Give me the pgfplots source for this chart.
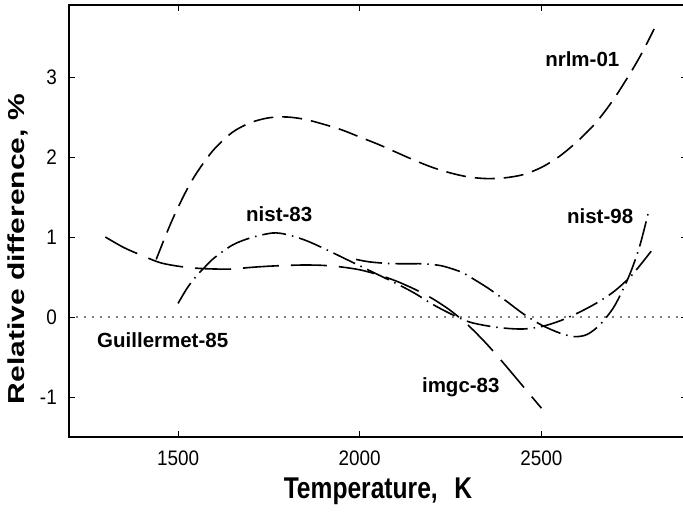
\documentclass[border=0pt]{standalone}
\usepackage{fontspec}
\setmainfont{Liberation Sans}
\newfontfamily\tickfont{Liberation Sans}[FakeStretch=0.9]
\newfontfamily\labfont{Liberation Sans}[FakeStretch=0.82]
\usepackage{graphicx}
\usepackage{pgfplots}
\pgfplotsset{compat=1.18}
\newcommand{\curvefont}{\bfseries\fontsize{20.5bp}{24bp}\selectfont}

\begin{document}
\begin{tikzpicture}
  \begin{axis}[
      scale only axis, width=617.8bp, height=432bp,
      xmin=1200, xmax=2900, ymin=-1.5, ymax=3.9,
      xtick={1500,2000,2500}, ytick={-1,0,1,2,3},
      scaled x ticks=false,
      tick align=inside, tick pos=both,
      major tick length=6bp,
      major tick style={line width=0.8bp, black},
      axis line style={line width=2.5bp},
      /pgf/number format/assume math mode=true,
      /pgf/number format/1000 sep={},
      xticklabel style={font=\tickfont\fontsize{21bp}{24bp}\selectfont,
                        anchor=north, inner sep=0pt, yshift=-14bp},
      yticklabel style={font=\tickfont\fontsize{21bp}{24bp}\selectfont,
                        anchor=east, inner sep=0pt, xshift=-12bp},
      xlabel={Temperature,\hspace{0.55em}K},
      xlabel style={font=\labfont\bfseries\fontsize{30bp}{34bp}\selectfont,
                    at={(axis description cs:0.5,-0.1412)}, anchor=base, inner sep=0pt},
      ylabel={\scalebox{1}[0.77]{Relative difference, \%}},
      ylabel style={font=\bfseries\fontsize{30bp}{34bp}\selectfont,
                    at={(axis description cs:-0.072,0.435)}, anchor=base, inner sep=0pt},
      every axis plot/.append style={line width=1.6bp, black, no marks},
    ]
    % Guillermet-85 reference
    \addplot[line width=1.6bp, line cap=round, dash pattern=on 0bp off 8bp]
      coordinates {(1200,0) (2900,0)};
    % nrlm-01
    \addplot[smooth, dash pattern=on 20bp off 9bp] coordinates {
      (1440,0.72) (1460,0.95) (1480,1.17) (1500,1.37) (1530,1.64) (1560,1.86)
      (1600,2.10) (1650,2.31) (1700,2.43) (1750,2.49) (1800,2.50) (1850,2.47)
      (1900,2.41) (1950,2.34) (2000,2.25) (2050,2.16) (2100,2.06) (2150,1.96)
      (2200,1.87) (2250,1.80) (2300,1.75) (2350,1.73) (2400,1.74) (2450,1.78)
      (2500,1.87) (2550,2.01) (2600,2.20) (2650,2.43) (2700,2.73) (2750,3.09)
      (2780,3.33) (2810,3.60)};
    % imgc-83
    \addplot[smooth, dash pattern=on 36bp off 12bp] coordinates {
      (1300,1.00) (1350,0.87) (1400,0.77) (1450,0.68) (1500,0.635) (1550,0.61)
      (1600,0.60) (1650,0.60) (1700,0.62) (1750,0.635) (1800,0.645) (1850,0.65)
      (1900,0.645) (1950,0.625) (2000,0.59) (2050,0.53) (2100,0.45) (2150,0.35)
      (2200,0.23) (2250,0.08) (2300,-0.11) (2350,-0.34) (2400,-0.60) (2450,-0.87)
      (2500,-1.14)};
    % nist-83
    \addplot[smooth, dash pattern=on 24bp off 6bp on 1.5bp off 6bp] coordinates {
      (1500,0.17) (1525,0.36) (1550,0.51) (1575,0.63) (1600,0.74) (1650,0.90)
      (1700,0.99) (1760,1.05) (1800,1.03) (1850,0.96) (1900,0.86) (1950,0.75)
      (2000,0.64) (2050,0.53) (2100,0.42) (2150,0.30) (2200,0.16) (2250,0.04)
      (2300,-0.06) (2350,-0.11) (2400,-0.14) (2450,-0.15) (2500,-0.12) (2550,-0.05)
      (2600,0.05) (2650,0.17) (2700,0.32) (2750,0.53) (2805,0.84)};
    % nist-98
    \addplot[smooth, dash pattern=on 26bp off 6bp on 1.5bp off 6bp] coordinates {
      (1990,0.72) (2025,0.69) (2075,0.67) (2125,0.665) (2175,0.665) (2225,0.64)
      (2275,0.57) (2300,0.51) (2350,0.37) (2400,0.21) (2450,0.04) (2500,-0.10)
      (2550,-0.20) (2590,-0.245) (2625,-0.22) (2660,-0.10) (2700,0.13) (2740,0.50)
      (2770,0.88) (2796,1.34)};

    \node[anchor=base west, inner sep=0pt, font=\curvefont] at (axis cs:2510,3.125) {nrlm-01};
    \node[anchor=base west, inner sep=0pt, font=\curvefont] at (axis cs:2570,1.1625) {nist-98};
    \node[anchor=base west, inner sep=0pt, font=\curvefont] at (axis cs:1687,1.1875) {nist-83};
    \node[anchor=base west, inner sep=0pt, font=\curvefont] at (axis cs:1277,-0.375) {Guillermet-85};
    \node[anchor=base west, inner sep=0pt, font=\curvefont] at (axis cs:2171,-0.946) {imgc-83};
  \end{axis}
  \pgfresetboundingbox
  \path[use as bounding box] (-69bp,-75bp) rectangle (614bp,437bp);
\end{tikzpicture}
\end{document}
